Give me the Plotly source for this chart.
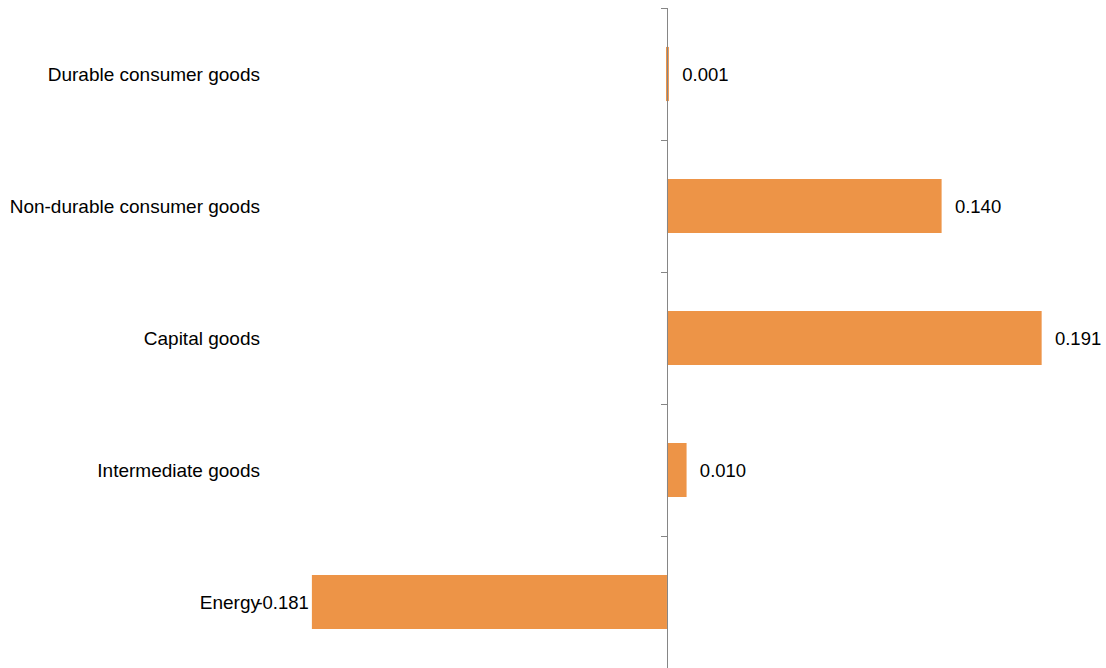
import plotly.graph_objects as go

categories = ["Durable consumer goods", "Non-durable consumer goods", "Capital goods",
              "Intermediate goods", "Energy"]
values = [0.001, 0.140, 0.191, 0.010, -0.181]
labels = ["  0.001", "  0.140", "  0.191", "  0.010", "-0.181"]

xmin, xmax = -0.2049, 0.2238
font = dict(family="Liberation Sans, Arial, sans-serif", size=19, color="#000000")
dfont = dict(family="Liberation Sans, Arial, sans-serif", size=18.5, color="#000000")

fig = go.Figure()
fig.add_trace(go.Bar(
    y=categories, x=values, orientation="h",
    marker=dict(color="#ED9447", line=dict(width=0)),
    width=0.41,
    text=labels, textposition="outside", textfont=dfont,
    cliponaxis=False, hoverinfo="skip",
))
# invisible trace to hold the zero axis
fig.add_trace(go.Scatter(x=[None], y=[None], yaxis="y2", showlegend=False, hoverinfo="skip"))

zero_pos = (0 - xmin) / (xmax - xmin)
fig.update_layout(
    width=1106, height=668,
    margin=dict(l=265, r=0, t=8, b=0),
    paper_bgcolor="white", plot_bgcolor="white",
    showlegend=False,
    font=font,
    xaxis=dict(range=[xmin, xmax], showgrid=False, zeroline=False, showline=False,
               showticklabels=False, ticks=""),
    yaxis=dict(categoryorder="array", categoryarray=categories, autorange="reversed",
               showgrid=False, zeroline=False, showline=False, ticks="",
               tickfont=font, ticklabelstandoff=4),
    yaxis2=dict(overlaying="y", anchor="free", position=zero_pos, side="left",
                range=[4.5, -0.5], tickmode="array",
                tickvals=[-0.5, 0.5, 1.5, 2.5, 3.5, 4.5],
                ticks="outside", ticklen=6, tickcolor="#868686", tickwidth=1,
                showticklabels=False, showline=True, linecolor="#868686", linewidth=1,
                showgrid=False, zeroline=False),
)
fig.write_html("out.html", config={"displayModeBar": False},
               post_script="document.body.style.margin='0';document.body.style.overflow='hidden';")
